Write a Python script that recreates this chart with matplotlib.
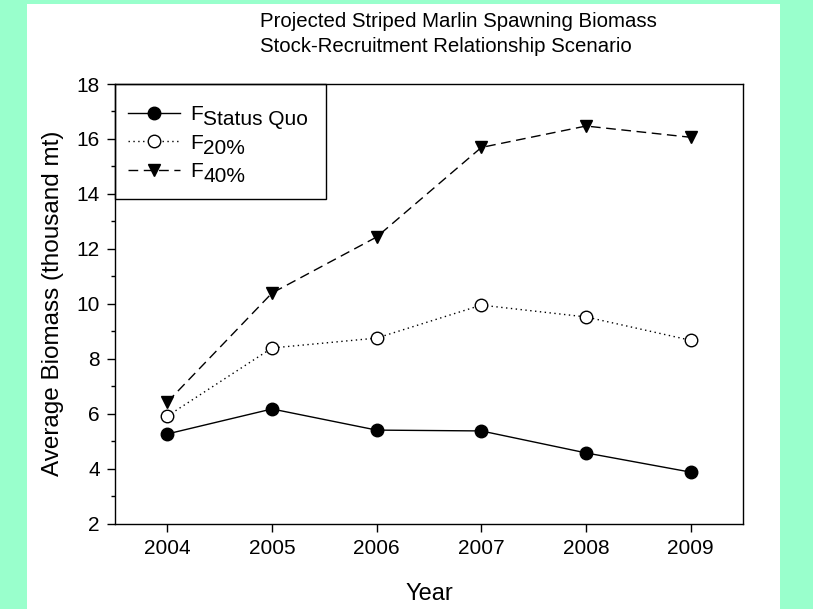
import matplotlib; matplotlib.use('Agg')
import matplotlib.pyplot as plt
from matplotlib.patches import Rectangle

years = [2004, 2005, 2006, 2007, 2008, 2009]
f_status_quo = [5.26, 6.17, 5.40, 5.37, 4.57, 3.87]
f_20 = [5.91, 8.39, 8.75, 9.95, 9.52, 8.67]
f_40 = [6.42, 10.39, 12.43, 15.69, 16.47, 16.06]
subscripts = ['Status Quo', '20%', '40%']

plt.rcParams['font.family'] = ['Liberation Sans', 'DejaVu Sans']
BG = '#99ffcc'

fig = plt.figure(figsize=(8.13, 6.09), dpi=100, facecolor=BG)
# white panel inside the green border
fig.patches.append(Rectangle((27/813, 0), (780-27)/813, 1-4/609, transform=fig.transFigure,
                             facecolor='white', edgecolor='none', zorder=0))
ax = fig.add_axes([115/813, 1-523.5/609, 628/813, 439.5/609])
ax.set_zorder(2)
ax.set_facecolor('white')

h1, = ax.plot(years, f_status_quo, color='black', lw=1, marker='o', ms=9,
              mfc='black', mec='black')
h2, = ax.plot(years, f_20, color='black', lw=1, ls=(0, (1, 2.5)), marker='o', ms=9,
              mfc='white', mec='black', mew=1)
h3, = ax.plot(years, f_40, color='black', lw=1, ls=(0, (7, 4)), marker='v', ms=9,
              mfc='black', mec='black')

ax.set_xlim(2003.5, 2009.5)
ax.set_ylim(2, 18)
ax.set_xticks(years)
ax.set_yticks(range(2, 19, 2))
ax.set_yticks(range(3, 18, 2), minor=True)
ax.tick_params(axis='both', which='major', direction='out', length=6, width=1,
               labelsize=15, top=False, right=False, pad=5)
ax.tick_params(axis='y', which='minor', direction='out', length=3, width=1)
for s in ax.spines.values():
    s.set_linewidth(1)

ax.set_xlabel('Year', fontsize=17, labelpad=18)
ax.set_ylabel('Average Biomass (thousand mt)', fontsize=17.5, labelpad=9)

title = fig.text(260/813, 1-12/609,
                 'Projected Striped Marlin Spawning Biomass\nStock-Recruitment Relationship Scenario',
                 ha='left', va='top', fontsize=14.7, linespacing=1.4)
title.set_zorder(3)

leg = ax.legend([h1, h2, h3], ['F', 'F', 'F'], loc='upper left', bbox_to_anchor=(-0.016, 1.004),
                frameon=False, fontsize=15, handlelength=2.5, handletextpad=0.5,
                labelspacing=0.45, borderpad=0.6, numpoints=1)
ax.add_patch(Rectangle((0, (523.5-199)/439.5), (326-115)/628, 1-(523.5-199)/439.5,
                       transform=ax.transAxes, facecolor='none', edgecolor='black',
                       lw=1, zorder=6, clip_on=False))

# subscripts drawn at full size, just below and after each "F"
fig.canvas.draw()
inv = fig.transFigure.inverted()
for t, sub in zip(leg.get_texts(), subscripts):
    bb = t.get_window_extent()
    x, y = inv.transform((bb.x1, bb.y0 - 5))
    fig.text(x, y, sub, fontsize=15, ha='left', va='bottom', zorder=3)

fig.savefig('out.png', dpi=100, facecolor=BG)
